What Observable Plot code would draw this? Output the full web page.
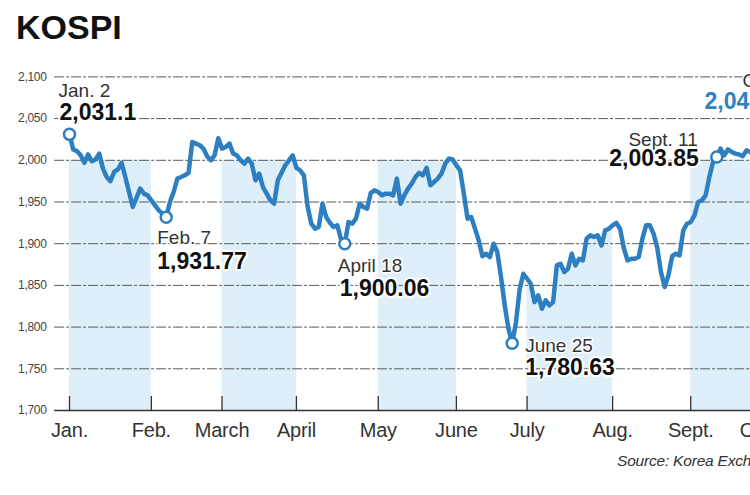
<!DOCTYPE html>
<html>
<head>
<meta charset="utf-8">
<script src="https://cdn.jsdelivr.net/npm/d3@7"></script>
<script src="https://cdn.jsdelivr.net/npm/@observablehq/plot@0.6"></script>
<style>
html,body{margin:0;padding:0;width:750px;height:495px;overflow:hidden;background:#fff;}
#wrap{position:relative;width:750px;height:495px;overflow:hidden;}
#title{position:absolute;left:16px;top:10px;font:bold 34px/1 "Liberation Sans",Arial,sans-serif;color:#111;margin:0;}
#chart{position:absolute;left:0;top:50px;width:840px;}
#chart svg{max-width:none !important;width:840px;height:395px;}
#source{position:absolute;left:617px;top:453px;font:italic 15.5px/1 "Liberation Sans",Arial,sans-serif;color:#333;white-space:nowrap;letter-spacing:-0.2px;}
[aria-label="x-axis tick label"] text{letter-spacing:-0.2px;}
[aria-label="y-axis tick label"] text{letter-spacing:-0.3px;}
</style>
</head>
<body>
<div id="wrap">
  <div id="title">KOSPI</div>
  <div id="chart"></div>
  <div id="source">Source: Korea Exchange</div>
</div>
<script>
// KOSPI daily close, by trading-session index (0 = Jan. 2)
const kospi = [
  // Jan.
  2031.1, 2013, 2011, 2006, 1997, 2007, 1999, 2001, 2008, 1990, 1980, 1975, 1986, 1989, 1997, 1980, 1962, 1944, 1955, 1966, 1960, 1958,
  // Feb.
  1952, 1946, 1940, 1936, 1931.77, 1950, 1962, 1978, 1980, 1982, 1985, 2022, 2020, 2018, 2014, 2005, 2000, 2006, 2026.49,
  // March
  2014, 2016, 2020, 2008, 2006, 2000, 1996, 2002, 1996, 1976, 1984, 1968, 1960, 1952, 1948, 1976, 1985, 1994, 2000, 2006,
  // April
  1991, 1988, 1982, 1945, 1924, 1918, 1920, 1948, 1932, 1925, 1920, 1922, 1905, 1900.06, 1926, 1924, 1930, 1948, 1944, 1942, 1961, 1964,
  // May
  1962, 1958, 1960, 1960, 1958, 1978, 1948, 1958, 1966, 1972, 1980, 1985, 1982, 1991, 1970, 1974, 1978, 1984, 1996, 2002, 2001,
  // June
  1994, 1988, 1960, 1930, 1932, 1918, 1904, 1885, 1888, 1884, 1900, 1890, 1860, 1826, 1798, 1780.63, 1805, 1845, 1864,
  // July
  1858, 1852, 1830, 1838, 1822, 1832, 1826, 1830, 1874, 1876, 1866, 1870, 1888, 1874, 1882, 1880, 1906, 1910, 1908, 1910, 1898, 1916, 1918,
  // Aug.
  1922, 1925, 1918, 1895, 1880, 1882, 1882, 1884, 1906, 1922, 1922, 1912, 1895, 1866, 1848, 1862, 1885, 1888, 1886, 1916, 1924,
  // Sept.
  1926, 1934, 1950, 1952, 1958, 1980, 1998, 2003.85, 2014, 2006, 2013, 2010, 2008, 2007, 2005, 2012, 2010, 2006,
  // Oct.
  2005, 1996, 1998, 1994, 2003, 2006, 2024, 2032, 2040.85
];

const monthLabels = ["Jan.", "Feb.", "March", "April", "May", "June", "July", "Aug.", "Sept.", "Oct."];
const monthStart  = [0, 22, 41, 61, 83, 104, 123, 146, 167, 185];
const shadedMonths = [0, 2, 4, 8];   // rectangular bands (Jan., March, May, Sept.)
const areaMonth = 6;                 // July band follows the index line
const yTicks = [1700, 1750, 1800, 1850, 1900, 1950, 2000, 2050, 2100];
const bandTop = 2000;

const annIdx   = [0, 26, 74, 119, 174, 193];
const annDate  = ["Jan. 2", "Feb. 7", "April 18", "June 25", "Sept. 11", "Oct. 15"];
const annValue = ["2,031.1", "1,931.77", "1,900.06", "1,780.63", "2,003.85", "2,040.85"];

// label placement (style/layout only)
const labelLayout = [
  {ta: "start", ddx: -11, ddy: -51, vdx: -10, vdy: -31, vfill: "#111"},
  {ta: "start", ddx: -9,  ddy: 13,  vdx: -9,  vdy: 35,  vfill: "#111"},
  {ta: "start", ddx: -7,  ddy: 15,  vdx: -5,  vdy: 36,  vfill: "#111"},
  {ta: "start", ddx: 13,  ddy: -5,  vdx: 13,  vdy: 15,  vfill: "#111"},
  {ta: "end",   ddx: -19, ddy: -25, vdx: -18, vdy: -7,  vfill: "#111"},
  {ta: "start", ddx: -45, ddy: -53, vdx: -83, vdy: -34, vfill: "#2d82c6"}
];

const BLUE = "#2d7fc1";
const pts = kospi.map((v, i) => ({i, v}));
const julyPts = pts.filter(d => d.i >= monthStart[areaMonth] && d.i <= monthStart[areaMonth + 1]);
const ann = annIdx.map((i, k) => ({i, v: kospi[i], date: annDate[k], value: annValue[k]}));

const annMarks = [];
ann.forEach((a, k) => {
  const L = labelLayout[k];
  annMarks.push(Plot.text([a], {
    x: "i", y: "v", text: "date", textAnchor: L.ta, lineAnchor: "top",
    dx: L.ddx, dy: L.ddy, fontSize: 19, fill: "#333",
    fontFamily: '"Liberation Sans", Arial, sans-serif',
    stroke: "white", strokeWidth: 3
  }));
  annMarks.push(Plot.text([a], {
    x: "i", y: "v", text: "value", textAnchor: L.ta, lineAnchor: "top",
    dx: L.vdx, dy: L.vdy, fontSize: 23, fontWeight: "bold", fill: L.vfill,
    fontFamily: '"Liberation Sans", Arial, sans-serif',
    stroke: "white", strokeWidth: 4
  }));
});

const chart = Plot.plot({
  width: 840,
  height: 395,
  marginLeft: 54.12,
  marginRight: 27,
  marginTop: 26.4,
  marginBottom: 35,
  x: {domain: [-4, 200], axis: null},
  y: {domain: [1700, 2100], axis: null},
  style: {fontFamily: '"Liberation Sans", Arial, sans-serif', fontSize: "12px", background: "transparent", maxWidth: "none"},
  marks: [
    Plot.rect(shadedMonths, {
      x1: d => monthStart[d], x2: d => monthStart[d + 1],
      y1: 1700, y2: bandTop, fill: "#dfeffa"
    }),
    Plot.areaY(julyPts, {x: "i", y1: 1700, y2: "v", fill: "#dfeffa"}),
    Plot.ruleY(yTicks.filter(v => v > 1700), {
      x1: -4, x2: 200, stroke: "#5a5a5a", strokeWidth: 1, strokeDasharray: "10,2,3,2"
    }),
    Plot.ruleY([1700], {x1: -4, x2: 200, stroke: "#333", strokeWidth: 1.3}),
    Plot.ruleX(monthStart, {y1: 1700, y2: 1716.8, stroke: "#333", strokeWidth: 1.3}),
    Plot.axisY(yTicks, {
      anchor: "left", tickSize: 0, tickPadding: 8, tickFormat: d3.format(","),
      fontSize: 12, fill: "#444", label: null
    }),
    Plot.axisX(monthStart, {
      anchor: "bottom", tickSize: 0, tickPadding: 12,
      tickFormat: d => monthLabels[monthStart.indexOf(d)],
      fontSize: 20, fill: "#333", label: null
    }),
    Plot.line(pts, {x: "i", y: "v", stroke: BLUE, strokeWidth: 4.5, strokeLinejoin: "round", strokeLinecap: "round"}),
    Plot.dot(ann, {x: "i", y: "v", r: 5.5, fill: "white", stroke: BLUE, strokeWidth: 2.5}),
    ...annMarks
  ]
});
document.getElementById("chart").append(chart);
</script>
</body>
</html>
